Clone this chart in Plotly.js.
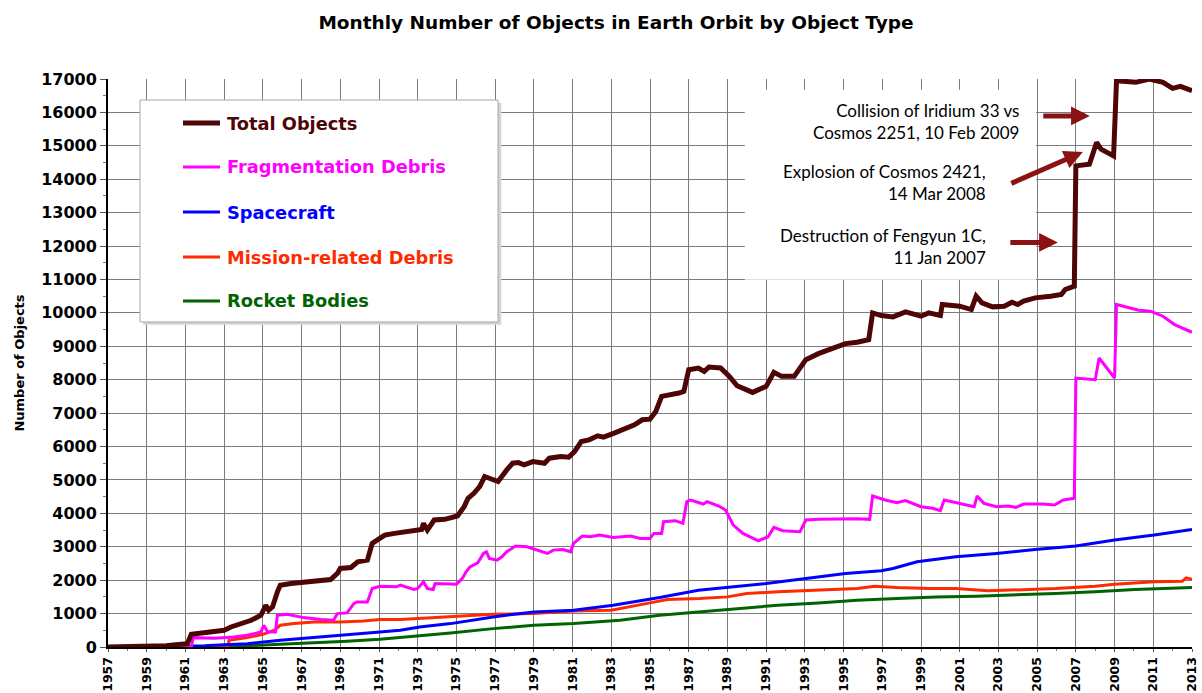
<!DOCTYPE html>
<html>
<head>
<meta charset="utf-8">
<script src="https://cdn.plot.ly/plotly-3.0.1.min.js"></script>
<style>html,body{margin:0;padding:0;background:#fff;}#chart{width:1202px;height:693px;}</style>
</head>
<body>
<div id="chart"></div>
<script>
// ---- Data ----
const seriesNames = ["Total Objects", "Fragmentation Debris", "Spacecraft", "Mission-related Debris", "Rocket Bodies"];

const totalYears = [1957.0,1957.8,1958.5,1959.0,1959.5,1960.0,1960.5,1961.1,1961.3,1961.8,1962.5,1963.0,1963.35,1963.85,1964.4,1964.9,1965.15,1965.3,1965.5,1965.75,1965.9,1966.45,1967.6,1968.5,1968.85,1969.0,1969.55,1969.9,1970.4,1970.65,1970.9,1971.3,1971.8,1972.5,1973.2,1973.3,1973.5,1973.85,1974.4,1975.05,1975.4,1975.6,1975.9,1976.2,1976.46,1976.7,1977.15,1977.6,1977.9,1978.2,1978.5,1978.95,1979.55,1979.8,1980.4,1980.8,1981.1,1981.45,1981.85,1982.3,1982.6,1983.15,1983.65,1984.2,1984.6,1985.0,1985.3,1985.6,1986.5,1986.75,1987.0,1987.5,1987.8,1988.05,1988.65,1989.1,1989.5,1990.3,1991.0,1991.4,1991.8,1992.45,1993.05,1993.7,1994.5,1995.1,1995.7,1996.3,1996.5,1996.95,1997.55,1998.2,1999.0,1999.4,2000.0,2000.1,2001.0,2001.6,2001.85,2002.15,2002.7,2003.3,2003.7,2004.0,2004.3,2004.9,2005.7,2006.25,2006.45,2006.92,2007.0,2007.7,2008.07,2008.3,2008.95,2009.1,2010.1,2010.8,2011.5,2012.0,2012.4,2013.0];
const totalValues = [0,2,5,10,20,40,70,100,380,420,450,500,600,700,800,950,1250,1100,1200,1650,1850,1900,1970,2020,2200,2350,2380,2550,2600,3100,3200,3350,3400,3450,3520,3700,3500,3800,3820,3920,4200,4450,4600,4800,5100,5050,4950,5300,5500,5520,5450,5550,5500,5650,5700,5680,5850,6150,6200,6320,6280,6400,6520,6650,6800,6820,7050,7500,7600,7650,8300,8350,8250,8380,8350,8100,7820,7620,7800,8220,8100,8100,8600,8780,8950,9080,9120,9200,10000,9920,9880,10030,9900,10000,9920,10250,10200,10100,10500,10300,10180,10200,10320,10250,10350,10450,10500,10550,10700,10800,14400,14450,15100,14900,14700,16950,16900,17000,16900,16720,16780,16650];

const fragYears = [1957.0,1961.3,1961.4,1962.5,1963.5,1964.2,1964.9,1965.05,1965.25,1965.65,1965.75,1966.25,1967.1,1968.0,1968.65,1968.85,1969.35,1969.7,1969.85,1970.4,1970.65,1971.05,1971.9,1972.1,1972.8,1973.0,1973.3,1973.5,1973.8,1973.9,1975.0,1975.3,1975.5,1975.7,1976.1,1976.4,1976.55,1976.7,1977.1,1977.35,1977.6,1978.05,1978.65,1979.15,1979.7,1980.0,1980.5,1980.9,1981.05,1981.5,1981.9,1982.4,1983.1,1984.0,1984.5,1985.0,1985.2,1985.6,1985.7,1986.3,1986.7,1986.9,1987.1,1987.75,1987.95,1988.55,1988.9,1989.3,1989.8,1990.6,1991.1,1991.4,1991.85,1992.75,1993.05,1993.7,1994.7,1995.7,1996.35,1996.5,1997.15,1997.75,1998.2,1999.0,1999.6,2000.0,2000.2,2001.05,2001.75,2001.9,2002.25,2002.9,2003.5,2003.9,2004.3,2005.3,2005.9,2006.35,2006.92,2007.0,2008.0,2008.2,2009.0,2009.1,2010.25,2010.85,2011.5,2012.1,2013.0];
const fragValues = [0,0,280,260,300,350,450,650,450,450,950,980,880,820,800,1000,1020,1300,1350,1350,1750,1820,1800,1850,1720,1750,1950,1750,1720,1900,1880,2050,2250,2400,2520,2800,2850,2650,2600,2700,2850,3020,3000,2900,2800,2900,2920,2850,3100,3320,3300,3350,3280,3320,3250,3250,3400,3400,3750,3780,3700,4350,4400,4280,4350,4220,4100,3650,3400,3180,3300,3580,3480,3450,3800,3820,3840,3840,3820,4520,4400,4320,4380,4200,4150,4080,4400,4280,4200,4520,4300,4200,4220,4180,4280,4280,4250,4400,4450,8050,8000,8650,8050,10250,10080,10050,9900,9650,9420];

const scYears = [1957.0,1958.0,1960.0,1962.0,1963.0,1964.2,1965.9,1967.65,1969.35,1971.05,1972.1,1973.1,1974.7,1976.9,1979.0,1981.05,1983.1,1984.7,1985.5,1987.5,1989.0,1991.0,1993.05,1995.1,1996.95,1997.55,1998.8,2000.8,2002.9,2004.9,2007.0,2009.0,2011.05,2013.0];
const scValues = [0,5,15,40,70,100,200,280,350,450,500,600,700,900,1050,1100,1250,1400,1480,1700,1780,1900,2050,2200,2280,2350,2550,2700,2800,2920,3020,3200,3350,3520];

const mrdYears = [1957.0,1963.2,1963.25,1964.2,1965.0,1965.6,1965.9,1966.6,1967.65,1969.0,1970.2,1971.05,1972.1,1973.1,1974.7,1976.9,1979.0,1981.05,1983.0,1984.5,1985.0,1985.9,1987.55,1989.0,1990.0,1991.6,1993.7,1995.7,1996.6,1997.75,1999.4,2000.8,2002.45,2003.9,2005.95,2008.0,2009.0,2011.05,2012.5,2012.7,2013.0];
const mrdValues = [0,0,200,280,380,500,650,700,750,750,780,820,820,850,900,980,1000,1080,1100,1250,1320,1420,1450,1500,1600,1650,1700,1750,1820,1780,1750,1750,1680,1700,1750,1820,1880,1950,1970,2070,2030];

const rbYears = [1957.0,1960.0,1963.35,1965.9,1967.65,1969.35,1971.05,1972.1,1973.1,1974.7,1976.9,1979.0,1981.05,1983.45,1985.5,1987.55,1989.6,1991.6,1993.7,1995.7,1997.75,1999.8,2001.85,2003.9,2005.95,2008.0,2010.05,2013.0];
const rbValues = [0,5,20,80,120,170,230,280,350,420,550,650,700,800,950,1050,1150,1250,1320,1400,1450,1500,1520,1550,1600,1650,1720,1780];

const eventTexts = [
  "Collision of Iridium 33 vs<br>Cosmos 2251, 10 Feb 2009",
  "Explosion of Cosmos 2421,<br>14 Mar 2008",
  "Destruction of Fengyun 1C,<br>11 Jan 2007"
];

// ---- Styles ----
const colors = ["#4d0505", "#ff00ff", "#0000ff", "#ff2a00", "#006400"];
const widths = [5, 3, 3, 3, 3];

const xs = [totalYears, fragYears, scYears, mrdYears, rbYears];
const ys = [totalValues, fragValues, scValues, mrdValues, rbValues];

const traces = [];
for (let i = seriesNames.length - 1; i >= 0; i--) {
  traces.push({
    type: "scatter", mode: "lines", name: seriesNames[i],
    x: xs[i], y: ys[i],
    line: {color: colors[i], width: widths[i]},
    showlegend: false, hoverinfo: "x+y+name"
  });
}

const F = "DejaVu Sans, Verdana, sans-serif";
const shapes = [];
const annotations = [];

// white panel behind the event notes
shapes.push({type: "rect", xref: "x", yref: "y", x0: 1989.9, x1: 2004.95, y0: 10990, y1: 16680,
  fillcolor: "#ffffff", line: {width: 0}, layer: "above"});

// manual legend box
const lx0 = 0.0295, lx1 = 0.3598, ly0 = 0.5722, ly1 = 0.963;
shapes.push({type: "rect", xref: "paper", yref: "paper", x0: lx0 + 0.003, x1: lx1 + 0.003, y0: ly0 - 0.005, y1: ly1 - 0.005,
  fillcolor: "#d4d4d4", line: {width: 0}, layer: "above"});
shapes.push({type: "rect", xref: "paper", yref: "paper", x0: lx0, x1: lx1, y0: ly0, y1: ly1,
  fillcolor: "#ffffff", line: {color: "#a8a8a8", width: 1}, layer: "above"});
const rowY = [0.9225, 0.8451, 0.7658, 0.6866, 0.6092];
for (let i = 0; i < seriesNames.length; i++) {
  shapes.push({type: "line", xref: "paper", yref: "paper", x0: 0.0692, x1: 0.1033, y0: rowY[i], y1: rowY[i],
    line: {color: colors[i], width: widths[i]}, layer: "above"});
  annotations.push({xref: "paper", yref: "paper", x: 0.1075, y: rowY[i], xanchor: "left", yanchor: "middle",
    text: seriesNames[i], showarrow: false,
    font: {family: F, size: 17.8, weight: "bold", color: colors[i]}});
}

// event notes
const noteX = [2004.19, 2002.45, 2002.45];
const noteY = [15734, 13893, 11987];
for (let i = 0; i < eventTexts.length; i++) {
  annotations.push({xref: "x", yref: "y", x: noteX[i], y: noteY[i], xanchor: "right", yanchor: "middle",
    align: "right", text: eventTexts[i], showarrow: false,
    font: {family: "Lato, Carlito, sans-serif", size: 17, color: "#000"}});
}
// arrows (head at x,y; tail offset ax, ay in px)
const arrowX = [2007.72, 2007.36, 2006.07];
const arrowY = [15893, 14815, 12110];
const arrowAx = [-48, -73, -49];
const arrowAy = [0, 32, 0];
for (let i = 0; i < arrowX.length; i++) {
  annotations.push({xref: "x", yref: "y", x: arrowX[i], y: arrowY[i], ax: arrowAx[i], ay: arrowAy[i],
    text: "", showarrow: true, arrowhead: 2, arrowsize: 0.75, arrowwidth: 5, arrowcolor: "#8b1212"});
}

const tickYears = [];
for (let y = 1957; y <= 2013; y += 2) tickYears.push(y);

const layout = {
  width: 1202, height: 693,
  margin: {l: 108, r: 10, t: 79, b: 46},
  paper_bgcolor: "#ffffff", plot_bgcolor: "#ffffff",
  title: {text: "Monthly Number of Objects in Earth Orbit by Object Type",
    font: {family: F, size: 18.5, weight: "bold", color: "#000"},
    xref: "container", yref: "container", x: 0.5125, xanchor: "center", y: 0.968, yanchor: "middle"},
  xaxis: {
    range: [1957, 2013], tickmode: "array", tickvals: tickYears, ticktext: tickYears.map(String),
    tickangle: -90, tickfont: {family: F, size: 12.5, weight: "bold", color: "#000"},
    showgrid: true, gridcolor: "#7c7c7c", gridwidth: 1,
    showline: true, linecolor: "#000", linewidth: 2,
    ticks: "outside", ticklen: 3, tickcolor: "#555", tickwidth: 1,
    minor: {dtick: 1, tick0: 1957, ticks: "outside", ticklen: 2, tickcolor: "#777", showgrid: false},
    zeroline: false, fixedrange: true
  },
  yaxis: {
    range: [0, 17000], dtick: 1000, tick0: 0, tickformat: "d",
    tickfont: {family: F, size: 16, weight: "bold", color: "#000"},
    title: {text: "Number of Objects", font: {family: F, size: 13, weight: "bold", color: "#000"}, standoff: 14},
    showgrid: true, gridcolor: "#7c7c7c", gridwidth: 1,
    showline: true, linecolor: "#000", linewidth: 2,
    ticks: "outside", ticklen: 6, tickcolor: "#555", tickwidth: 1,
    minor: {dtick: 500, ticks: "outside", ticklen: 3, tickcolor: "#777", showgrid: false},
    zeroline: false, fixedrange: true
  },
  shapes: shapes,
  annotations: annotations,
  showlegend: false
};

Plotly.newPlot("chart", traces, layout, {displayModeBar: false, staticPlot: true});
</script>
</body>
</html>
